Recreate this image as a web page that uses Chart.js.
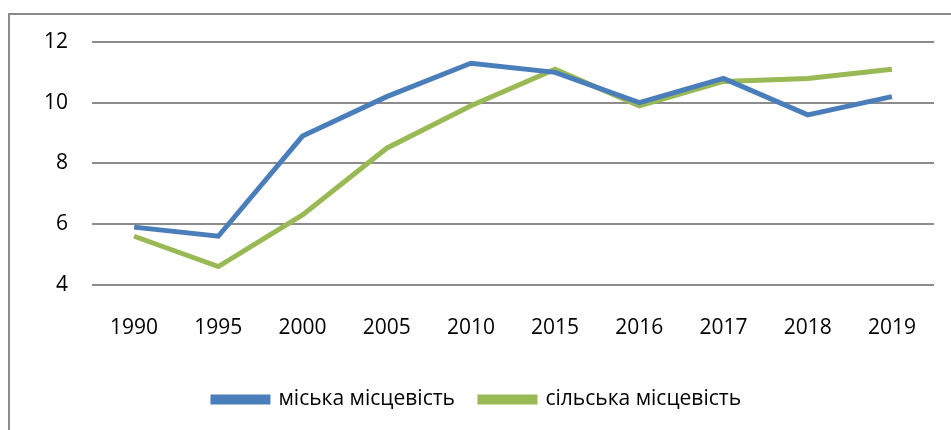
<!DOCTYPE html>
<html>
<head>
<meta charset="utf-8">
<script src="https://cdn.jsdelivr.net/npm/chart.js@4"></script>
<style>
  body { margin: 0; background: #fff; }
  #frame { position: absolute; left: 8px; top: 13px; width: 960px; height: 430px; border: 2px solid #8a8a8a; }
  #wrap { position: absolute; left: 0; top: 0; width: 951px; height: 430px; }
</style>
</head>
<body>
<div id="frame"></div>
<div id="wrap"><canvas id="chart"></canvas></div>
<script>
const years = ['1990', '1995', '2000', '2005', '2010', '2015', '2016', '2017', '2018', '2019'];
const urban = [5.9, 5.6, 8.9, 10.2, 11.3, 11.0, 10.0, 10.8, 9.6, 10.2];
const rural = [5.6, 4.6, 6.3, 8.5, 9.9, 11.1, 9.9, 10.7, 10.8, 11.1];
const yTicks = [4, 6, 8, 10, 12];

const font = "'Open Sans', sans-serif";

new Chart(document.getElementById('chart'), {
  type: 'line',
  data: {
    labels: years,
    datasets: [
      { label: 'міська місцевість', data: urban, borderColor: '#4A7EBB', backgroundColor: '#4A7EBB', borderWidth: 5, pointRadius: 0, tension: 0 },
      { label: 'сільська місцевість', data: rural, borderColor: '#98B954', backgroundColor: '#98B954', borderWidth: 5, pointRadius: 0, tension: 0 }
    ]
  },
  options: {
    responsive: true,
    maintainAspectRatio: false,
    animation: false,
    layout: { padding: { left: 20, right: 17, top: 42, bottom: 10 } },
    scales: {
      x: {
        offset: true,
        grid: { display: false },
        border: { display: false },
        ticks: { color: '#000', font: { family: font, size: 21 }, padding: 23, maxRotation: 0 }
      },
      y: {
        min: 4,
        max: 12,
        afterBuildTicks: axis => { axis.ticks = yTicks.map(v => ({ value: v })); },
        grid: { color: '#8c8c8c', lineWidth: 2, drawTicks: false },
        border: { display: false },
        ticks: { color: '#000', font: { family: font, size: 21 }, padding: 24 }
      }
    },
    plugins: {
      legend: {
        position: 'bottom',
        labels: { color: '#000', font: { family: font, size: 21 }, boxWidth: 55, boxHeight: 5, padding: 25 }
      },
      tooltip: { enabled: false }
    }
  }
});
</script>
</body>
</html>
